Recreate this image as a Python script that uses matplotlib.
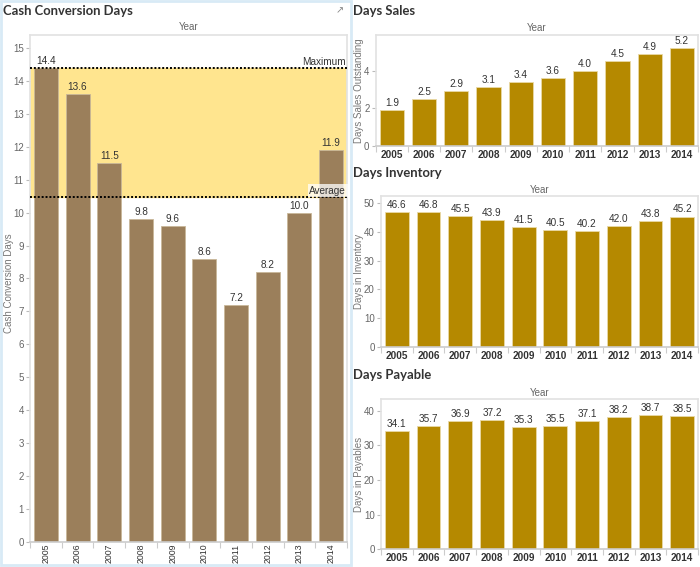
"""
Cash conversion dashboard - CCC with avg/max band on the left,
days sales / inventory / payable on the right.
"""

import matplotlib.pyplot as plt
import matplotlib.patches as patches
import numpy as np

W, H = 700, 567

years = ["2005", "2006", "2007", "2008", "2009", "2010", "2011", "2012", "2013", "2014"]
cash_conversion = [14.4, 13.6, 11.5, 9.8, 9.6, 8.6, 7.2, 8.2, 10.0, 11.9]
days_sales = [1.9, 2.5, 2.9, 3.1, 3.4, 3.6, 4.0, 4.5, 4.9, 5.2]
days_inventory = [46.6, 46.8, 45.5, 43.9, 41.5, 40.5, 40.2, 42.0, 43.8, 45.2]
days_payable = [34.1, 35.7, 36.9, 37.2, 35.3, 35.5, 37.1, 38.2, 38.7, 38.5]

BROWN = "#9b7f5b"
GOLD = "#b58900"
BAND = "#ffe58f"
TXT = "#333333"
GREY = "#666666"
FRAME = "#e2e2e2"
LABEL_FONT = "Liberation Sans"


def px_axes(x0, y0, x1, y1):
    # pixel box (top-left origin) -> figure axes
    return fig.add_axes([x0 / W, 1 - y1 / H, (x1 - x0) / W, (y1 - y0) / H])


def fig_text(x, y, s, **kw):
    fig.text(x / W, 1 - y / H, s, **kw)


def style_axes(ax, ymax, yticks, ylabel, label_x, label_y=0.5, rotate=False):
    x = np.arange(len(years))
    ax.set_xlim(-0.5, len(years) - 0.5)
    ax.set_ylim(0, ymax)
    ax.set_yticks(yticks)
    ax.set_xticks(x)
    ax.set_xticklabels(years, rotation=90 if rotate else 0,
                       fontsize=6.3 if rotate else 7.2,
                       color=TXT, fontfamily=LABEL_FONT,
                       fontweight="normal" if rotate else "bold")
    ax.set_xticks(np.arange(-0.5, len(years)), minor=True)
    ax.tick_params(axis="x", which="major", length=0, pad=1.5 if rotate else 3)
    ax.tick_params(axis="x", which="minor", length=4, color="#cccccc", width=0.8)
    ax.tick_params(axis="y", length=3, color="#bbbbbb", labelsize=7,
                   labelcolor=GREY, pad=1.5)
    for lbl in ax.get_yticklabels():
        lbl.set_fontfamily(LABEL_FONT)
    ax.set_ylabel(ylabel, fontsize=7, color="#777777", fontfamily=LABEL_FONT)
    # label_x: pixel x used to anchor the rotated axis title
    x0 = ax.get_position().x0 * W
    w = ax.get_position().width * W
    ax.yaxis.set_label_coords((label_x - x0) / w, label_y)
    for sp in ax.spines.values():
        sp.set_color(FRAME)
        sp.set_linewidth(1.2)
    ax.spines["bottom"].set_color("#cccccc")


def bar_labels(ax, bars, values):
    for b, v in zip(bars, values):
        ax.annotate(f"{v:.1f}", xy=(b.get_x() + b.get_width() / 2, v),
                    xytext=(0, 1.5), textcoords="offset points",
                    ha="center", va="bottom", fontsize=7.2, color=TXT,
                    fontfamily=LABEL_FONT)


fig = plt.figure(figsize=(W / 100, H / 100), dpi=100)
fig.patch.set_facecolor("white")

# selected-sheet border around the left panel
fig.add_artist(patches.Rectangle((1 / W, 2 / H), 350 / W, 564 / H, transform=fig.transFigure,
                                 fill=False, edgecolor="#d8eaf6", linewidth=2))

# --- Cash conversion days ---
ax = px_axes(30, 35, 347, 541.6)
x = np.arange(len(years))
avg = np.mean(cash_conversion)
mx = max(cash_conversion)
ax.axhspan(avg, mx, color=BAND, zorder=0)
bars = ax.bar(x, cash_conversion, width=0.76, color=BROWN, edgecolor="#c9b899",
              linewidth=0.6, zorder=2)
ax.axhline(mx, color="black", linestyle=(0, (1, 1)), linewidth=1.4, zorder=3)
ax.axhline(avg, color="black", linestyle=(0, (1, 1)), linewidth=1.4, zorder=3)
bar_labels(ax, bars, cash_conversion)
ax.text(9.47, mx + 0.04, "Maximum", ha="right", va="bottom", fontsize=7.2,
        color=TXT, fontfamily=LABEL_FONT, zorder=4)
ax.text(9.47, avg + 0.04, "Average", ha="right", va="bottom", fontsize=7.2,
        color=TXT, fontfamily=LABEL_FONT, zorder=4,
        bbox=dict(boxstyle="square,pad=0.15", facecolor="white", edgecolor="none", alpha=0.75))
style_axes(ax, 15.4, range(0, 16), "Cash Conversion Days", 14, label_y=0.51, rotate=True)

# --- right hand panels ---
ax_s = px_axes(375.7, 35, 698, 145.6)
b = ax_s.bar(x, days_sales, width=0.75, color=GOLD, edgecolor="#e9d9a6", linewidth=0.6)
bar_labels(ax_s, b, days_sales)
style_axes(ax_s, 5.9, [0, 2, 4], "Days Sales Outstanding", 364)

ax_i = px_axes(381, 196, 698, 347.3)
b = ax_i.bar(x, days_inventory, width=0.75, color=GOLD, edgecolor="#e9d9a6", linewidth=0.6)
bar_labels(ax_i, b, days_inventory)
style_axes(ax_i, 52.3, range(0, 51, 10), "Days in Inventory", 364)

ax_p = px_axes(381, 399.3, 698, 549.3)
b = ax_p.bar(x, days_payable, width=0.75, color=GOLD, edgecolor="#e9d9a6", linewidth=0.6)
bar_labels(ax_p, b, days_payable)
style_axes(ax_p, 43.3, range(0, 41, 10), "Days in Payables", 364)

# titles and column headers
title_kw = dict(fontsize=9.4, fontweight="bold", color=TXT, fontfamily="Lato", va="center")
fig_text(3, 11, "Cash Conversion Days", **title_kw)
fig_text(353, 11, "Days Sales", **title_kw)
fig_text(353, 173, "Days Inventory", **title_kw)
fig_text(353, 375, "Days Payable", **title_kw)

year_kw = dict(fontsize=7, color=GREY, fontfamily=LABEL_FONT, ha="center", va="center")
fig_text(188.5, 27.5, "Year", **year_kw)
fig_text(537, 28, "Year", **year_kw)
fig_text(539.5, 190, "Year", **year_kw)
fig_text(539.5, 392.5, "Year", **year_kw)

# little pop-out icon
fig_text(340, 10, "\u2197", fontsize=7, color="#888888", ha="center", va="center")

fig.savefig("out.png", dpi=100)
